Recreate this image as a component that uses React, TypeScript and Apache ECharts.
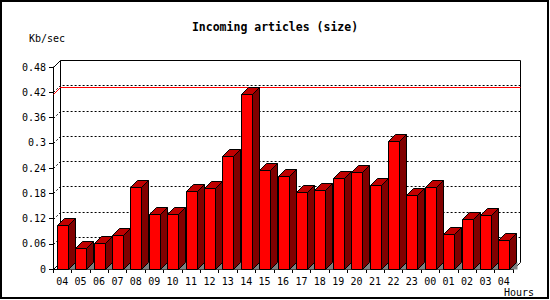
import React, { useEffect, useRef } from "react";
import * as echarts from "echarts";

const hours = ["04","05","06","07","08","09","10","11","12","13","14","15","16","17","18","19","20","21","22","23","00","01","02","03","04"];
const kbPerSec = [0.105,0.049,0.061,0.080,0.196,0.131,0.131,0.185,0.192,0.268,0.416,0.235,0.221,0.183,0.188,0.216,0.230,0.199,0.304,0.175,0.195,0.083,0.118,0.128,0.068];
const yTicks = [0.06,0.12,0.18,0.24,0.3,0.36,0.42];
const title = "Incoming articles (size)";
const yUnit = "Kb/sec";
const xUnit = "Hours";

const DEPTH = 7;
const BAR_W = 11;
const FONT = "'DejaVu Sans Mono', monospace";

const px = (v: number) => Math.round(v) + 0.5;

export default function App() {
  const ref = useRef<HTMLDivElement>(null);
  useEffect(() => {
    if (!ref.current) return;
    const chart = echarts.init(ref.current, null, { renderer: "svg" });
    const maxVal = Math.max(...kbPerSec);
    const n = hours.length;
    const planeLine = (api: any, v: number) => {
      const p = api.coord([0, v]);
      const band = api.size([1, 0])[0];
      const left = px(p[0] - band / 2);
      const right = px(api.coord([n - 1, v])[0] + band / 2);
      const y = px(p[1]);
      return [[left, y], [left + DEPTH, y - DEPTH], [right + DEPTH, y - DEPTH]];
    };
    chart.setOption({
      animation: false,
      backgroundColor: "#ffffff",
      title: {
        text: title,
        left: "center",
        top: 16,
        textStyle: { fontFamily: FONT, fontSize: 11.5, fontWeight: "bold", color: "#000" },
      },
      grid: { left: 53, right: 37, top: 67, bottom: 31 },
      xAxis: {
        type: "category",
        data: hours,
        boundaryGap: true,
        axisLine: { lineStyle: { color: "#000", width: 1 } },
        axisTick: { show: true, length: 4, lineStyle: { color: "#000" } },
        axisLabel: { fontFamily: FONT, fontSize: 10, color: "#000", margin: 7, interval: 0 },
        splitLine: { show: false },
      },
      yAxis: {
        type: "value",
        min: 0,
        max: 0.48,
        interval: 0.06,
        axisLine: { show: true, lineStyle: { color: "#000", width: 1 } },
        axisTick: { show: true, length: 4, lineStyle: { color: "#000" } },
        axisLabel: { fontFamily: FONT, fontSize: 10, color: "#000", margin: 7 },
        splitLine: { show: false },
      },
      graphic: [
        {
          type: "rect",
          shape: { x: 1, y: 1, width: 547, height: 297 },
          style: { fill: "none", stroke: "#000", lineWidth: 2 },
          silent: true,
        },
        {
          type: "text",
          x: 29,
          y: 33,
          style: { text: yUnit, font: `10px ${FONT}`, fill: "#000" },
        },
        {
          type: "text",
          x: 504,
          y: 287,
          style: { text: xUnit, font: `10px ${FONT}`, fill: "#000" },
        },
      ],
      series: [
        {
          // back plane frame
          type: "custom",
          data: [[0]],
          z: 1,
          renderItem: (params: any, api: any) => {
            const tl = api.coord([0, 0.48]);
            const bl = api.coord([0, 0]);
            const band = api.size([1, 0])[0];
            const left = px(tl[0] - band / 2);
            const right = px(api.coord([n - 1, 0])[0] + band / 2);
            const top = px(tl[1]);
            const bottom = px(bl[1]);
            const line = { stroke: "#000", lineWidth: 1, fill: "none" };
            return {
              type: "group",
              children: [
                { type: "polyline", shape: { points: [[left + DEPTH, bottom - DEPTH], [left + DEPTH, top - DEPTH], [right + DEPTH, top - DEPTH], [right + DEPTH, bottom - DEPTH]] }, style: line },
                { type: "line", shape: { x1: left, y1: top, x2: left + DEPTH, y2: top - DEPTH }, style: line },
                { type: "line", shape: { x1: right, y1: bottom, x2: right + DEPTH, y2: bottom - DEPTH }, style: line },
                { type: "line", shape: { x1: left, y1: bottom, x2: left + DEPTH, y2: bottom - DEPTH }, style: line },
              ],
            };
          },
        },
        {
          // dotted gridlines on back plane
          type: "custom",
          data: yTicks.map((t) => [0, t]),
          z: 2,
          renderItem: (params: any, api: any) => ({
            type: "polyline",
            shape: { points: planeLine(api, api.value(1)) },
            style: { stroke: "#000", lineWidth: 1, lineDash: [2, 2], fill: "none" },
          }),
        },
        {
          // max line
          type: "custom",
          data: [[0, maxVal]],
          z: 3,
          renderItem: (params: any, api: any) => ({
            type: "polyline",
            shape: { points: planeLine(api, api.value(1)) },
            style: { stroke: "#ff0000", lineWidth: 1, fill: "none" },
          }),
        },
        {
          type: "custom",
          data: kbPerSec.map((v, i) => [i, v]),
          z: 5,
          renderItem: (params: any, api: any) => {
            const i = api.value(0);
            const v = api.value(1);
            const topP = api.coord([i, v]);
            const baseP = api.coord([i, 0]);
            const x0 = px(topP[0] - BAR_W / 2);
            const x1 = x0 + BAR_W;
            const yt = px(topP[1]);
            const yb = px(baseP[1]);
            const d = DEPTH;
            const stroke = { stroke: "#000", lineWidth: 1 };
            return {
              type: "group",
              children: [
                { type: "polygon", shape: { points: [[x1, yb], [x1 + d, yb - d], [x1 + d + 1, yb - d], [x1 + d + 1, yb]] }, style: { fill: "#808080" } },
                { type: "polygon", shape: { points: [[x1, yt], [x1 + d, yt - d], [x1 + d, yb - d], [x1, yb]] }, style: { fill: "#800000", ...stroke } },
                { type: "polygon", shape: { points: [[x0, yt], [x0 + d, yt - d], [x1 + d, yt - d], [x1, yt]] }, style: { fill: "#c00000", ...stroke } },
                { type: "rect", shape: { x: x0, y: yt, width: BAR_W, height: yb - yt }, style: { fill: "#ff0000", ...stroke } },
              ],
            };
          },
        },
      ],
    });
    return () => chart.dispose();
  }, []);
  return (
    <div
      ref={ref}
      style={{ position: "fixed", left: 0, top: 0, width: 550, height: 300, background: "#fff" }}
    />
  );
}
